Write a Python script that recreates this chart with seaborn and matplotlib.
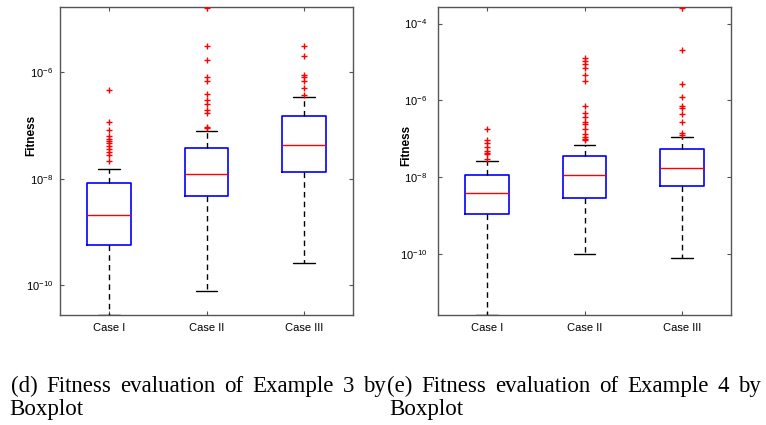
import numpy as np
import pandas as pd
import matplotlib
matplotlib.use("Agg")
import matplotlib.pyplot as plt
import seaborn as sns

# ---- data -------------------------------------------------------------
cases = ["Case I", "Case II", "Case III"]

# Example 3: five-number summaries (whisker low, Q1, median, Q3, whisker high)
ex3_low = [2.75e-11, 7.9e-11, 2.6e-10]
ex3_q1 = [5.6e-10, 4.8e-9, 1.32e-8]
ex3_median = [2.1e-9, 1.23e-8, 4.4e-8]
ex3_q3 = [8.3e-9, 3.8e-8, 1.51e-7]
ex3_high = [1.55e-8, 7.9e-8, 3.5e-7]
ex3_out_case1 = [4.7e-7, 1.17e-7, 8.1e-8, 6.5e-8, 5.6e-8, 5.2e-8, 4.8e-8,
                 4.2e-8, 3.7e-8, 3.2e-8, 2.8e-8, 2.2e-8]
ex3_out_case2 = [1.65e-5, 3.2e-6, 1.74e-6, 8.1e-7, 6.9e-7, 3.9e-7, 3.0e-7,
                 2.6e-7, 2.0e-7, 1.7e-7, 9.5e-8, 9.1e-8]
ex3_out_case3 = [3.1e-6, 2.0e-6, 9.1e-7, 8.3e-7, 6.8e-7, 5.1e-7, 3.8e-7]
ex3_ylim = (2.75e-11, 1.7e-5)
ex3_yticks = [1e-10, 1e-8, 1e-6]

# Example 4
ex4_low = [2.6e-12, 1.0e-10, 8.1e-11]
ex4_q1 = [1.12e-9, 2.8e-9, 5.9e-9]
ex4_median = [3.8e-9, 1.15e-8, 1.78e-8]
ex4_q3 = [1.12e-8, 3.5e-8, 5.4e-8]
ex4_high = [2.6e-8, 6.9e-8, 1.12e-7]
ex4_out_case1 = [1.78e-7, 9.3e-8, 7.9e-8, 6.3e-8, 4.9e-8, 4.4e-8, 4.0e-8, 3.0e-8]
ex4_out_case2 = [1.29e-5, 1.05e-5, 8.7e-6, 6.8e-6, 4.6e-6, 3.2e-6, 7.2e-7,
                 4.6e-7, 3.6e-7, 2.8e-7, 2.4e-7, 1.78e-7, 1.32e-7, 1.12e-7,
                 1.02e-7, 9.3e-8]
ex4_out_case3 = [2.5e-4, 2.0e-5, 2.75e-6, 1.23e-6, 7.1e-7, 6.2e-7, 4.4e-7,
                 2.8e-7, 1.45e-7, 1.26e-7]
ex4_ylim = (2.6e-12, 2.7e-4)
ex4_yticks = [1e-10, 1e-8, 1e-6, 1e-4]

caption_first = ["(d) Fitness evaluation of Example 3 by",
                 "(e) Fitness evaluation of Example 4 by"]
caption_second = ["Boxplot", "Boxplot"]


def summary_frame(low, q1, med, q3, high):
    rows = []
    for i, case in enumerate(cases):
        for v in (low[i], q1[i], med[i], q3[i], high[i]):
            rows.append({"case": case, "fitness": v})
    return pd.DataFrame(rows)


def outlier_frame(*groups):
    rows = []
    for case, vals in zip(cases, groups):
        for v in vals:
            rows.append({"case": case, "fitness": v})
    return pd.DataFrame(rows)


panels = [
    dict(box=summary_frame(ex3_low, ex3_q1, ex3_median, ex3_q3, ex3_high),
         out=outlier_frame(ex3_out_case1, ex3_out_case2, ex3_out_case3),
         ylim=ex3_ylim, yticks=ex3_yticks),
    dict(box=summary_frame(ex4_low, ex4_q1, ex4_median, ex4_q3, ex4_high),
         out=outlier_frame(ex4_out_case1, ex4_out_case2, ex4_out_case3),
         ylim=ex4_ylim, yticks=ex4_yticks),
]

# ---- style ------------------------------------------------------------
sns.set_style("white")
plt.rcParams["font.family"] = ["Liberation Sans Narrow", "Liberation Sans", "DejaVu Sans"]
plt.rcParams["mathtext.default"] = "regular"
plt.rcParams["axes.unicode_minus"] = False
plt.rcParams["text.color"] = "black"
plt.rcParams["axes.labelcolor"] = "black"

fig = plt.figure(figsize=(7.66, 4.25), dpi=100)
W, H = 766, 425
ax_boxes = [(60, 7, 293, 308), (438.3, 7, 292.4, 308)]
label_x = [-0.078, -0.088]
label_y = [0.584, 0.552]
tick_pad = [5, 8]

spine_col = "#555555"

for k, (p, (x0, y0, w, h)) in enumerate(zip(panels, ax_boxes)):
    ax = fig.add_axes([x0 / W, 1 - (y0 + h) / H, w / W, h / H])

    sns.boxplot(
        data=p["box"], x="case", y="fitness", order=cases, ax=ax,
        log_scale=True, whis=np.inf, showfliers=False, fill=False,
        width=0.45, linewidth=1.1,
        boxprops={"color": "#0000ff", "linewidth": 1.2},
        medianprops={"color": "#ff0000", "linewidth": 1.0},
        whiskerprops={"color": "black", "linestyle": (0, (4, 3)), "linewidth": 1.0},
        capprops={"color": "black", "linewidth": 1.0},
    )
    sns.stripplot(
        data=p["out"], x="case", y="fitness", order=cases, ax=ax,
        log_scale=True, jitter=False, marker="+", color="#ff0000",
        size=5, linewidth=1.0,
    )

    ax.set_yscale("log")
    ax.set_ylim(*p["ylim"])
    ax.set_xlim(-0.5, 2.5)
    ax.set_yticks(p["yticks"])
    ax.yaxis.set_minor_locator(matplotlib.ticker.NullLocator())
    ax.yaxis.set_major_formatter(matplotlib.ticker.LogFormatterSciNotation())
    ax.tick_params(axis="both", which="major", direction="in", length=3,
                   width=0.8, color=spine_col, labelcolor="black",
                   labelsize=8, left=True, right=True, top=True, bottom=True)
    ax.tick_params(axis="y", pad=tick_pad[k])
    ax.tick_params(axis="x", pad=6)

    for s in ax.spines.values():
        s.set_visible(True)
        s.set_color(spine_col)
        s.set_linewidth(1.0)

    ax.set_xlabel("")
    ax.set_ylabel("Fitness", fontsize=8.5, fontweight="bold", color="black",
                  family=["Liberation Sans", "DejaVu Sans"])
    ax.yaxis.set_label_coords(label_x[k], label_y[k])

# ---- captions: first line justified between two edges, second line flush left
renderer = fig.canvas.get_renderer()
cap_font = dict(family="Liberation Serif", fontsize=16.5, va="baseline",
                ha="left", color="black")
first_span = [(11, 386), (387, 761)]
second_x = [9, 389]

for (left, right), line1, line2, x2 in zip(first_span, caption_first,
                                           caption_second, second_x):
    words = line1.split(" ")
    artists = [fig.text(0, 1 - 392 / H, wd, **cap_font) for wd in words]
    widths = [a.get_window_extent(renderer).width for a in artists]
    gap = (right - left - sum(widths)) / (len(words) - 1)
    pos = left
    for a, wdt in zip(artists, widths):
        a.set_x(pos / W)
        pos += wdt + gap
    fig.text(x2 / W, 1 - 415 / H, line2, **cap_font)

fig.savefig("out.png", dpi=100)
